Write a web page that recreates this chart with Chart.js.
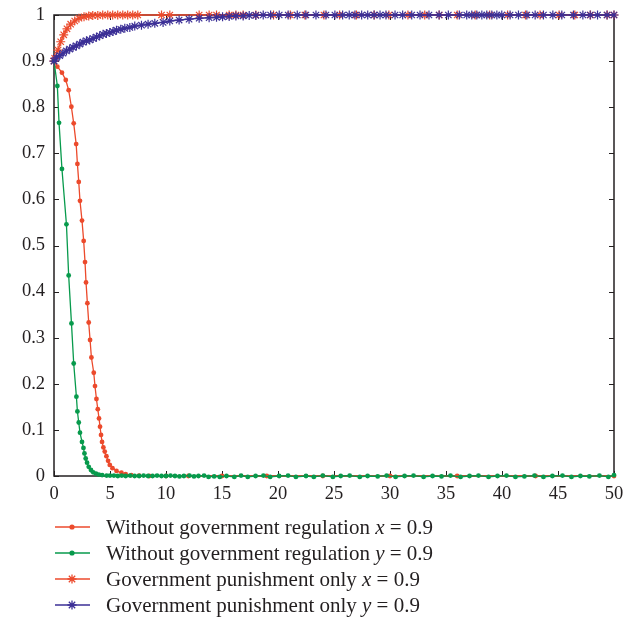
<!DOCTYPE html>
<html>
<head>
<meta charset="utf-8">
<script src="https://cdn.jsdelivr.net/npm/chart.js@4.4.1/dist/chart.umd.min.js"></script>
<style>
  html, body { margin: 0; padding: 0; background: #fff; }
  #wrap { width: 638px; height: 618px; }
</style>
</head>
<body>
<div id="wrap"><canvas id="chart" width="638" height="618"></canvas></div>
<script>
/* data */

// Without government regulation, x = 0.9
const noRegXt = [0, 0.3, 0.71, 1.05, 1.31, 1.55, 1.76, 1.98, 2.09, 2.21, 2.32, 2.5, 2.65, 2.77, 2.86, 2.98, 3.1, 3.22, 3.34, 3.55, 3.66, 3.79, 3.91, 4.02, 4.11, 4.2, 4.29, 4.41, 4.53, 4.68, 4.83, 4.98, 5.22, 5.58, 6.02, 6.4, 6.9, 7.6, 8.5, 10, 12, 15, 19, 24, 30, 36, 43, 50]
const noRegXv = [0.9, 0.888, 0.875, 0.859, 0.837, 0.801, 0.765, 0.72, 0.677, 0.638, 0.597, 0.554, 0.51, 0.464, 0.42, 0.375, 0.333, 0.295, 0.257, 0.224, 0.195, 0.167, 0.145, 0.125, 0.107, 0.089, 0.074, 0.062, 0.053, 0.043, 0.033, 0.024, 0.017, 0.011, 0.007, 0.004, 0.002, 0.001, 0, 0, 0, 0, 0, 0, 0, 0, 0, 0]

// Without government regulation, y = 0.9
const noRegYt = [0, 0.3, 0.45, 0.71, 1.11, 1.31, 1.56, 1.76, 2.0, 2.09, 2.21, 2.32, 2.5, 2.63, 2.72, 2.83, 2.95, 3.1, 3.3, 3.5, 3.75, 4.0, 4.3, 4.7, 5.0, 5.35, 5.7, 6.05, 6.4, 6.8, 7.2, 7.6, 8.0, 8.4, 8.8, 9.2, 9.6, 10.0, 10.4, 10.8, 11.2, 11.6, 12.1, 12.5, 12.9, 13.4, 13.8, 14.3, 14.8, 15.4, 16.1, 16.7, 17.3, 18.0, 18.7, 19.3, 20.1, 20.9, 21.6, 22.5, 23.2, 24.0, 24.9, 25.6, 26.4, 27.3, 28.0, 28.9, 29.7, 30.5, 31.3, 32.1, 33.0, 33.8, 34.6, 35.4, 36.3, 37.1, 37.9, 38.8, 39.6, 40.4, 41.2, 42.0, 42.9, 43.7, 44.5, 45.4, 46.2, 47.0, 47.8, 48.7, 49.5, 50]
const noRegYv = [0.9, 0.846, 0.766, 0.666, 0.546, 0.435, 0.331, 0.244, 0.172, 0.14, 0.116, 0.094, 0.074, 0.061, 0.049, 0.038, 0.029, 0.02, 0.013, 0.008, 0.005, 0.003, 0.002, 0.001, 0.001, 0.001, 0, 0.001, 0, 0.001, 0, 0, 0.001, 0, 0, 0.001, 0, 0, 0.001, 0, -0.001, 0, 0.001, -0.001, 0, 0.001, -0.002, -0.001, -0.002, 0, -0.002, 0.001, -0.002, 0, 0.001, -0.002, 0, 0.001, -0.002, 0, -0.002, 0.001, -0.002, 0, 0.001, -0.002, 0, -0.001, 0.001, -0.002, 0, 0.001, -0.002, 0, -0.001, 0.001, -0.002, 0, 0.001, -0.002, 0, 0.001, -0.002, -0.001, 0.001, -0.002, 0, 0.001, -0.002, 0, -0.001, 0.001, -0.002, 0.002]

// Government punishment only, x = 0.9
const punXt = [0, 0.06, 0.36, 0.6, 0.87, 1.16, 1.49, 1.85, 2.23, 2.68, 3.1, 3.46, 3.91, 4.35, 4.8, 5.24, 5.69, 6.14, 6.58, 7.03, 7.48, 9.6, 10.34, 12.96, 13.85, 14.51, 15.64, 16.24, 16.89, 18.02, 19.6, 21.1, 22.4, 24.1, 25.5, 27.0, 28.6, 29.9, 31.6, 33.1, 34.4, 36.0, 37.6, 38.9, 40.5, 42.1, 43.4, 45.1, 46.5, 47.9, 49.4, 50]
const punXv = [0.9, 0.906, 0.924, 0.942, 0.957, 0.97, 0.98, 0.987, 0.993, 0.996, 0.998, 0.999, 0.999, 1, 1, 1, 1, 1, 1, 1, 1, 1, 1, 1, 1, 1, 1, 1, 1, 1, 1, 1, 1, 1, 1, 1, 1, 1, 1, 1, 1, 1, 1, 1, 1, 1, 1, 1, 1, 1, 1, 1]

// Government punishment only, y = 0.9
const punYt = [0, 0.21, 0.51, 0.8, 1.11, 1.4, 1.7, 2.0, 2.3, 2.59, 2.9, 3.19, 3.49, 3.79, 4.08, 4.38, 4.68, 4.98, 5.27, 5.58, 5.96, 6.32, 6.77, 7.21, 7.81, 8.4, 9.0, 9.74, 10.34, 11.17, 12.06, 12.96, 13.85, 14.51, 15.05, 15.64, 16.24, 16.89, 17.43, 18.02, 18.68, 19.34, 20.11, 20.91, 21.72, 22.49, 23.39, 24.28, 25.08, 25.77, 26.36, 26.87, 27.47, 28.01, 28.57, 29.11, 29.64, 30.45, 31.13, 31.94, 32.68, 33.48, 34.38, 35.21, 36.19, 36.85, 37.3, 37.75, 38.2, 38.64, 39.09, 39.54, 39.98, 40.72, 41.47, 42.22, 42.96, 43.7, 44.54, 45.34, 46.38, 47.22, 47.87, 48.53, 49.37, 50]
const punYv = [0.9, 0.907, 0.912, 0.917, 0.922, 0.926, 0.93, 0.933, 0.937, 0.941, 0.944, 0.946, 0.949, 0.952, 0.955, 0.958, 0.96, 0.962, 0.964, 0.967, 0.969, 0.971, 0.973, 0.976, 0.978, 0.98, 0.982, 0.984, 0.987, 0.989, 0.991, 0.993, 0.994, 0.995, 0.996, 0.997, 0.998, 0.998, 0.999, 0.999, 1, 1, 1, 1, 1, 1, 1, 1, 1, 1, 1, 1, 1, 1, 1, 1, 1, 1, 1, 1, 1, 1, 1, 1, 1, 1, 1, 1, 1, 1, 1, 1, 1, 1, 1, 1, 1, 1, 1, 1, 1, 1, 1, 1, 1, 1]

const legendLabels = [
  ['Without government regulation ', 'x', ' = 0.9'],
  ['Without government regulation ', 'y', ' = 0.9'],
  ['Government punishment only ', 'x', ' = 0.9'],
  ['Government punishment only ', 'y', ' = 0.9']
]

const red = '#ec4a2c'
const green = '#079a4c'
const blue = '#3b2f96'
const ink = '#231f20'
const serif = '"Liberation Serif", "DejaVu Serif", serif'

function pts(xs, ys) {
  return xs.map((t, i) => ({ x: t, y: ys[i] }))
}

/* frame with inner ticks, like the matlab box */
const framePlugin = {
  id: 'frame',
  beforeDatasetsDraw(chart) {
    const ctx = chart.ctx
    const a = chart.chartArea
    const xs = chart.scales.x
    const ys = chart.scales.y
    ctx.save()
    ctx.strokeStyle = ink
    ctx.lineWidth = 1.5
    ctx.strokeRect(a.left, a.top, a.right - a.left, a.bottom - a.top)
    ctx.lineWidth = 1
    ctx.beginPath()
    xs.ticks.forEach(tk => {
      const px = Math.round(xs.getPixelForValue(tk.value)) + 0.5
      ctx.moveTo(px, a.bottom); ctx.lineTo(px, a.bottom - 5)
      ctx.moveTo(px, a.top); ctx.lineTo(px, a.top + 5)
    })
    ys.ticks.forEach(tk => {
      const py = Math.round(ys.getPixelForValue(tk.value)) + 0.5
      ctx.moveTo(a.left, py); ctx.lineTo(a.left + 5, py)
      ctx.moveTo(a.right, py); ctx.lineTo(a.right - 5, py)
    })
    ctx.stroke()
    ctx.restore()
  }
}

/* legend under the plot, with italic x / y */
const legendPlugin = {
  id: 'mathLegend',
  afterDraw(chart) {
    const ctx = chart.ctx
    const rowsY = [527, 553, 579, 605]
    ctx.save()
    rowsY.forEach((y, k) => {
      const ds = chart.data.datasets.find(d => d.legendIndex === k)
      ctx.strokeStyle = ds.borderColor
      ctx.fillStyle = ds.borderColor
      ctx.lineWidth = 1.3
      ctx.beginPath()
      ctx.moveTo(55, y); ctx.lineTo(90, y)
      ctx.stroke()
      if (ds.pointStyle === 'circle') {
        ctx.beginPath()
        ctx.arc(72, y, 2.6, 0, Math.PI * 2)
        ctx.fill()
      } else {
        const r = 4.5
        const d = r * Math.SQRT1_2
        ctx.beginPath()
        ctx.moveTo(72 - r, y); ctx.lineTo(72 + r, y)
        ctx.moveTo(72, y - r); ctx.lineTo(72, y + r)
        ctx.moveTo(72 - d, y - d); ctx.lineTo(72 + d, y + d)
        ctx.moveTo(72 - d, y + d); ctx.lineTo(72 + d, y - d)
        ctx.stroke()
      }
      let x = 106
      ctx.fillStyle = ink
      ctx.textBaseline = 'middle'
      legendLabels[k].forEach((part, j) => {
        ctx.font = (j === 1 ? 'italic ' : '') + '21px ' + serif
        ctx.fillText(part, x, y + 1)
        x += ctx.measureText(part).width
      })
    })
    ctx.restore()
  }
}

const chart = new Chart(document.getElementById('chart'), {
  type: 'scatter',
  data: {
    datasets: [
      {
        legendIndex: 3,
        data: pts(punYt, punYv),
        showLine: true,
        borderColor: blue,
        backgroundColor: blue,
        borderWidth: 1.4,
        pointStyle: 'star',
        pointRadius: 4.5,
        pointBorderWidth: 1.2,
        clip: false,
        order: 0
      },
      {
        legendIndex: 1,
        data: pts(noRegYt, noRegYv),
        showLine: true,
        borderColor: green,
        backgroundColor: green,
        borderWidth: 1.3,
        pointStyle: 'circle',
        pointRadius: 2.4,
        pointBorderWidth: 0,
        clip: false,
        order: 1
      },
      {
        legendIndex: 2,
        data: pts(punXt, punXv),
        showLine: true,
        borderColor: red,
        backgroundColor: red,
        borderWidth: 1.4,
        pointStyle: 'star',
        pointRadius: 4.5,
        pointBorderWidth: 1.2,
        clip: false,
        order: 2
      },
      {
        legendIndex: 0,
        data: pts(noRegXt, noRegXv),
        showLine: true,
        borderColor: red,
        backgroundColor: red,
        borderWidth: 1.3,
        pointStyle: 'circle',
        pointRadius: 2.4,
        pointBorderWidth: 0,
        clip: false,
        order: 3
      }
    ]
  },
  options: {
    responsive: false,
    animation: false,
    events: [],
    layout: { padding: { top: 15, right: 24, left: 0, bottom: 0 } },
    plugins: {
      legend: { display: false },
      tooltip: { enabled: false }
    },
    elements: { line: { tension: 0 } },
    scales: {
      x: {
        type: 'linear',
        min: 0,
        max: 50,
        grid: { display: false, drawTicks: false, tickLength: 0 },
        border: { display: false },
        ticks: {
          stepSize: 5,
          padding: 7,
          color: ink,
          font: { family: serif, size: 18.5 }
        },
        afterFit(scale) { scale.height = 142 }
      },
      y: {
        type: 'linear',
        min: 0,
        max: 1,
        grid: { display: false, drawTicks: false, tickLength: 0 },
        border: { display: false },
        ticks: {
          stepSize: 0.1,
          padding: 9,
          color: ink,
          font: { family: serif, size: 18.5 },
          callback: v => String(Number(v.toFixed(1)))
        },
        afterFit(scale) {
          scale.width = 54
          scale.paddingTop = 0
          scale.paddingBottom = 0
        }
      }
    }
  },
  plugins: [framePlugin, legendPlugin]
})
</script>
</body>
</html>
